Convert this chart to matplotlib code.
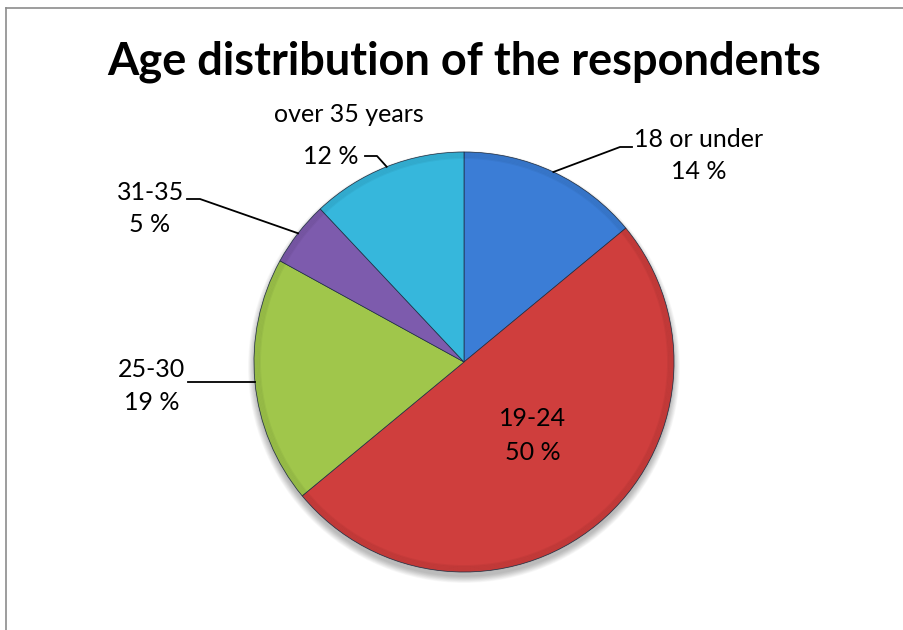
import numpy as np
import matplotlib
matplotlib.use("Agg")
import matplotlib.pyplot as plt
from matplotlib.patches import Circle
from matplotlib.lines import Line2D

# data
categories = ["18 or under", "19-24", "25-30", "31-35", "over 35 years"]
shares = [14, 50, 19, 5, 12]
colors = ["#3b7dd6", "#cf3e3d", "#a0c64b", "#7d5bad", "#36b7dc"]

W, H = 904, 630
CX, CY, R = 464, H - 362, 210

plt.rcParams["font.family"] = ["Lato", "DejaVu Sans"]

fig = plt.figure(figsize=(W / 100, H / 100), dpi=100)
ax = fig.add_axes([0, 0, 1, 1])

# frame: only left and top edges visible in the crop
fig.add_artist(Line2D([6 / W, 6 / W], [0, 1 - 8 / H], color="#8c8c8c", lw=1.2))
fig.add_artist(Line2D([6 / W, 1], [1 - 8 / H, 1 - 8 / H], color="#8c8c8c", lw=1.2))

# soft shadow under the pie
for k in range(12):
    ax.add_patch(Circle((CX, CY - 5), R + 6 - k * 0.6, color="#000000",
                        alpha=0.025, lw=0, zorder=1))

wedges, _ = ax.pie(shares, colors=colors, startangle=90, counterclock=False,
                   center=(CX, CY), radius=R, frame=True,
                   wedgeprops=dict(edgecolor="#1f2f44", linewidth=0.5, zorder=2))
ax.set_xlim(0, W)
ax.set_ylim(0, H)
ax.set_aspect("equal")
ax.axis("off")

# slight darkening toward the rim
for k in range(6):
    ax.add_patch(Circle((CX, CY), R - k * 1.2, fill=False, ec="#000000",
                        lw=1.4, alpha=0.04, zorder=3))

ax.text(464, H - 62, "Age distribution of the respondents", ha="center", va="center",
        fontsize=32.5, fontweight="bold", color="black")

fs = 18
# label placement: name (x, y), value (x, y), elbow (x, y or None = level with edge), line end x
layout = {
    "18 or under": ((699, 140), (699, 172), (620, 147), 632),
    "19-24": ((533, 418), (533, 453), None, None),
    "25-30": ((152, 370), (152, 403), (None, None), 188),
    "31-35": ((151, 193), (150, 225), (200, 199), 187),
    "over 35 years": ((349, 115), (331, 157), (377, 156), 365),
}

for w, cat, val in zip(wedges, categories, shares):
    (nx, ny), (vx, vy), elbow, lx = layout[cat]
    ax.text(nx, H - ny, cat, ha="center", va="center", fontsize=fs, zorder=5)
    ax.text(vx, H - vy, f"{val} %", ha="center", va="center", fontsize=fs, zorder=5)
    if elbow is None:
        continue
    mid = np.deg2rad((w.theta1 + w.theta2) / 2)
    ex, ey = CX + R * np.cos(mid), CY + R * np.sin(mid)
    bx, by = elbow
    if by is None:
        xs, ys = [ex, lx], [ey, ey]
    else:
        xs, ys = [ex, bx, lx], [ey, H - by, H - by]
    ax.plot(xs, ys, color="black", lw=1.3, zorder=4)

fig.savefig("out.png", dpi=100)
